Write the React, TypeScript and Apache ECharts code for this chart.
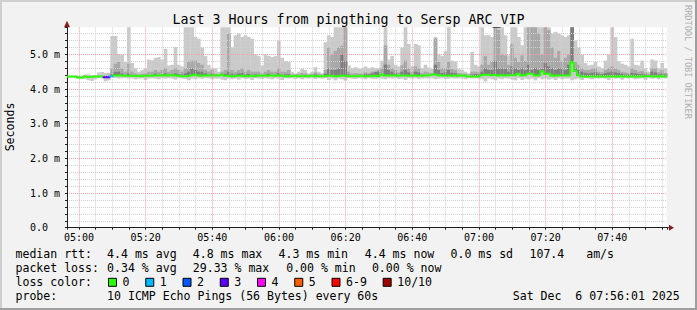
import React, { useEffect, useRef } from 'react';
import * as echarts from 'echarts';

const TITLE = 'Last 3 Hours from pingthing to Sersp ARC_VIP';
const Y_AXIS_NAME = 'Seconds';
const WATERMARK = 'RRDTOOL / TOBI OETIKER';
const START_MIN = 296.4; // 04:56:24, minutes after midnight
const SPAN_MIN = 180;
const Y_MAX = 5.78; // ms

// one value per 1-minute column (ms)
const medianRtt = [
  4.36, 4.36, 4.36, 4.33, 4.33, 4.36, 4.35, 4.35, 4.36, 4.36,
  4.36, 4.34, 4.34, 4.37, 4.39, 4.39, 4.39, 4.38, 4.38, 4.38,
  4.38, 4.38, 4.37, 4.38, 4.38, 4.38, 4.39, 4.39, 4.39, 4.40,
  4.39, 4.40, 4.39, 4.38, 4.37, 4.37, 4.37, 4.40, 4.41, 4.39,
  4.38, 4.39, 4.39, 4.39, 4.39, 4.39, 4.41, 4.38, 4.38, 4.37,
  4.37, 4.38, 4.38, 4.37, 4.37, 4.38, 4.37, 4.38, 4.38, 4.39,
  4.38, 4.39, 4.38, 4.39, 4.38, 4.37, 4.37, 4.37, 4.38, 4.37,
  4.37, 4.37, 4.37, 4.38, 4.37, 4.37, 4.37, 4.37, 4.38, 4.38,
  4.37, 4.37, 4.38, 4.38, 4.37, 4.37, 4.37, 4.37, 4.38, 4.37,
  4.37, 4.37, 4.38, 4.37, 4.42, 4.39, 4.39, 4.39, 4.39, 4.38,
  4.39, 4.39, 4.38, 4.38, 4.39, 4.38, 4.38, 4.39, 4.39, 4.41,
  4.42, 4.40, 4.39, 4.39, 4.38, 4.38, 4.39, 4.38, 4.39, 4.38,
  4.36, 4.36, 4.36, 4.36, 4.40, 4.41, 4.41, 4.40, 4.40, 4.39,
  4.40, 4.39, 4.40, 4.40, 4.40, 4.44, 4.39, 4.40, 4.44, 4.44,
  4.39, 4.39, 4.51, 4.44, 4.44, 4.39, 4.38, 4.39, 4.39, 4.39,
  4.39, 4.77, 4.52, 4.40, 4.36, 4.36, 4.36, 4.36, 4.36, 4.36,
  4.36, 4.36, 4.36, 4.36, 4.36, 4.36, 4.37, 4.36, 4.36, 4.36,
  4.36, 4.36, 4.36, 4.37, 4.37, 4.37, 4.36, 4.36, 4.37, 4.36,
];

const smokeLow = [
  4.33, 4.33, 4.32, 4.30, 4.30, 4.28, 4.25, 4.23, 4.28, 4.31,
  4.31, 4.22, 4.25, 4.33, 4.32, 4.30, 4.31, 4.32, 4.30, 4.31,
  4.28, 4.30, 4.31, 4.26, 4.30, 4.31, 4.30, 4.28, 4.31, 4.30,
  4.31, 4.30, 4.27, 4.31, 4.30, 4.29, 4.25, 4.30, 4.28, 4.31,
  4.30, 4.32, 4.31, 4.28, 4.30, 4.30, 4.27, 4.25, 4.30, 4.28,
  4.30, 4.27, 4.31, 4.29, 4.30, 4.26, 4.31, 4.30, 4.29, 4.31,
  4.30, 4.28, 4.31, 4.30, 4.26, 4.31, 4.30, 4.31, 4.29, 4.31,
  4.28, 4.31, 4.30, 4.31, 4.29, 4.31, 4.30, 4.31, 4.26, 4.30,
  4.25, 4.30, 4.28, 4.24, 4.31, 4.30, 4.29, 4.31, 4.30, 4.28,
  4.31, 4.30, 4.29, 4.31, 4.30, 4.28, 4.31, 4.30, 4.31, 4.29,
  4.30, 4.26, 4.31, 4.30, 4.31, 4.29, 4.30, 4.31, 4.30, 4.31,
  4.28, 4.30, 4.31, 4.29, 4.30, 4.31, 4.30, 4.31, 4.30, 4.28,
  4.31, 4.30, 4.31, 4.30, 4.28, 4.22, 4.30, 4.28, 4.25, 4.30,
  4.28, 4.31, 4.30, 4.27, 4.25, 4.31, 4.26, 4.30, 4.28, 4.30,
  4.25, 4.31, 4.28, 4.30, 4.27, 4.30, 4.26, 4.31, 4.28, 4.30,
  4.30, 4.25, 4.28, 4.30, 4.26, 4.31, 4.30, 4.28, 4.31, 4.30,
  4.31, 4.30, 4.26, 4.31, 4.30, 4.31, 4.27, 4.31, 4.30, 4.31,
  4.28, 4.30, 4.31, 4.26, 4.31, 4.30, 4.31, 4.28, 4.31, 4.30,
];

const smokeHigh = [
  4.37, 4.38, 4.37, 4.36, 4.35, 4.42, 4.42, 4.40, 4.40, 4.48,
  4.49, 4.46, 4.47, 5.53, 5.53, 5.00, 4.98, 4.78, 5.78, 4.75,
  4.60, 4.50, 4.55, 4.60, 4.85, 4.83, 4.90, 4.92, 4.85, 5.16,
  4.68, 4.70, 5.21, 4.70, 4.65, 5.78, 5.78, 5.78, 5.50, 5.45,
  5.20, 4.95, 4.70, 4.60, 4.60, 4.50, 5.78, 5.78, 5.78, 5.20,
  5.55, 5.60, 5.50, 5.55, 5.50, 5.45, 5.00, 4.95, 4.68, 5.00,
  4.95, 4.92, 4.95, 5.40, 4.90, 4.80, 4.78, 4.50, 4.45, 4.50,
  4.58, 4.55, 4.45, 4.50, 4.63, 4.50, 4.45, 5.35, 5.55, 5.50,
  5.78, 5.78, 5.78, 5.78, 4.68, 4.60, 4.63, 4.58, 4.60, 4.65,
  4.60, 4.63, 4.60, 4.60, 4.82, 5.78, 4.85, 4.95, 4.70, 4.65,
  5.20, 5.78, 5.30, 4.65, 5.30, 5.26, 4.60, 4.70, 4.62, 4.58,
  5.50, 5.00, 4.95, 5.10, 5.78, 4.82, 4.80, 4.58, 4.55, 4.50,
  4.45, 5.07, 4.70, 4.65, 5.78, 5.55, 5.55, 5.50, 5.78, 5.78,
  5.78, 5.55, 4.97, 5.78, 5.78, 5.50, 5.26, 5.78, 5.78, 5.78,
  5.78, 5.78, 5.78, 5.78, 5.78, 5.60, 5.65, 5.60, 5.55, 5.50,
  5.55, 5.78, 5.40, 5.20, 4.98, 4.75, 4.68, 4.70, 4.78, 4.65,
  4.60, 4.82, 5.00, 5.78, 5.50, 4.80, 4.73, 4.70, 4.65, 5.45,
  4.70, 4.68, 4.82, 4.60, 4.50, 4.85, 4.82, 4.60, 4.75, 4.60,
];

const smokeMid = [
  4.38, 4.38, 4.38, 4.37, 4.36, 4.39, 4.38, 4.38, 4.38, 4.40,
  4.40, 4.40, 4.42, 4.60, 4.73, 4.78, 4.60, 4.50, 4.73, 4.50,
  4.45, 4.42, 4.44, 4.45, 4.50, 4.50, 4.55, 4.50, 4.55, 4.60,
  4.50, 4.55, 4.60, 4.55, 4.50, 4.60, 4.80, 4.82, 4.82, 4.75,
  4.70, 4.55, 4.50, 4.55, 4.45, 4.42, 4.50, 4.55, 5.60, 4.55,
  4.50, 4.55, 4.60, 4.50, 4.55, 4.50, 4.50, 4.50, 4.45, 4.50,
  4.55, 4.50, 4.50, 4.60, 4.50, 4.50, 4.55, 4.42, 4.42, 4.44,
  4.46, 4.45, 4.42, 4.44, 4.48, 4.44, 4.42, 4.55, 5.20, 5.00,
  5.10, 5.20, 5.25, 5.78, 4.50, 4.45, 4.46, 4.45, 4.45, 4.48,
  4.46, 4.50, 4.48, 4.55, 4.60, 5.26, 4.70, 4.60, 4.55, 4.48,
  4.68, 4.82, 4.60, 4.48, 4.65, 4.60, 4.46, 4.50, 4.48, 4.46,
  5.45, 4.78, 4.60, 4.60, 4.78, 4.58, 4.55, 4.46, 4.45, 4.44,
  4.42, 4.50, 4.50, 4.48, 4.70, 4.95, 4.70, 4.80, 5.78, 5.70,
  5.00, 4.97, 4.70, 5.30, 4.90, 4.78, 4.97, 4.80, 5.78, 5.78,
  5.78, 5.60, 5.00, 5.78, 5.70, 5.20, 4.90, 5.10, 4.80, 4.90,
  5.00, 5.78, 4.78, 4.70, 4.60, 4.55, 4.55, 4.58, 4.60, 4.50,
  4.48, 4.55, 4.60, 4.65, 4.60, 4.55, 4.50, 4.48, 4.46, 4.60,
  4.55, 4.50, 4.52, 4.48, 4.44, 4.60, 4.60, 4.48, 4.55, 4.46,
];

const smokeCore = [
  4.37, 4.37, 4.37, 4.36, 4.35, 4.37, 4.37, 4.36, 4.37, 4.38,
  4.38, 4.36, 4.37, 4.42, 4.49, 4.50, 4.45, 4.42, 4.45, 4.42,
  4.41, 4.40, 4.40, 4.41, 4.42, 4.42, 4.44, 4.42, 4.43, 4.45,
  4.42, 4.43, 4.45, 4.43, 4.42, 4.45, 4.50, 4.60, 4.55, 4.50,
  4.50, 4.45, 4.42, 4.44, 4.41, 4.40, 4.45, 4.44, 4.50, 4.44,
  4.42, 4.45, 4.46, 4.42, 4.44, 4.42, 4.42, 4.41, 4.40, 4.42,
  4.44, 4.42, 4.41, 4.46, 4.42, 4.42, 4.43, 4.40, 4.40, 4.40,
  4.41, 4.41, 4.40, 4.40, 4.42, 4.40, 4.40, 4.44, 4.60, 4.55,
  4.55, 4.60, 5.00, 4.80, 4.42, 4.40, 4.41, 4.40, 4.40, 4.42,
  4.42, 4.45, 4.50, 4.50, 4.46, 4.70, 4.55, 4.50, 4.45, 4.42,
  4.50, 4.55, 4.48, 4.42, 4.50, 4.48, 4.41, 4.43, 4.42, 4.41,
  4.70, 4.55, 4.46, 4.48, 4.55, 4.47, 4.46, 4.41, 4.41, 4.40,
  4.40, 4.42, 4.43, 4.42, 4.50, 4.60, 4.55, 4.55, 4.80, 4.60,
  4.60, 4.58, 4.50, 4.65, 4.60, 4.55, 4.60, 4.55, 4.70, 4.55,
  4.60, 4.55, 4.58, 4.75, 4.65, 4.60, 4.55, 4.60, 4.60, 4.55,
  4.70, 5.78, 4.60, 4.55, 4.50, 4.47, 4.45, 4.47, 4.48, 4.44,
  4.43, 4.46, 4.48, 4.50, 4.48, 4.46, 4.44, 4.42, 4.41, 4.47,
  4.45, 4.43, 4.44, 4.42, 4.40, 4.50, 4.48, 4.42, 4.45, 4.42,
];

const lossCount = [
  0, 0, 0, 0, 0, 0, 0, 0, 0, 0,
  0, 3, 3, 1, 0, 0, 0, 0, 0, 0,
  0, 0, 0, 0, 0, 0, 0, 0, 0, 0,
  0, 0, 0, 0, 0, 0, 0, 0, 0, 0,
  0, 0, 0, 0, 0, 0, 0, 0, 0, 0,
  0, 0, 0, 0, 0, 0, 0, 0, 0, 0,
  0, 0, 0, 0, 0, 0, 0, 0, 0, 0,
  0, 0, 0, 0, 0, 0, 0, 0, 0, 0,
  0, 0, 0, 0, 0, 0, 0, 0, 0, 0,
  0, 0, 0, 0, 0, 0, 0, 0, 0, 0,
  0, 0, 0, 0, 0, 0, 0, 0, 0, 0,
  0, 0, 0, 0, 0, 0, 0, 0, 0, 0,
  0, 0, 0, 0, 0, 0, 0, 0, 0, 0,
  0, 0, 0, 0, 0, 0, 0, 0, 0, 0,
  0, 0, 0, 0, 0, 0, 0, 0, 0, 0,
  0, 0, 0, 0, 0, 0, 0, 0, 0, 0,
  0, 0, 0, 0, 0, 0, 0, 0, 0, 0,
  0, 0, 0, 0, 0, 0, 0, 0, 0, 0,
];

const lossLabels = ['0', '1', '2', '3', '4', '5', '6-9', '10/10'];
const lossColors = ['#26ff00', '#00b8ff', '#0059ff', '#5e00ff', '#ff00ff', '#ff5e00', '#ff0000', '#a10000'];

const rttStats = ['4.4 ms avg', '4.8 ms max', '4.3 ms min', '4.4 ms now', '0.0 ms sd', '107.4', 'am/s'];
const lossStats = ['0.34 % avg', '29.33 % max', '0.00 % min', '0.00 % now'];
const probeText = '10 ICMP Echo Pings (56 Bytes) every 60s';
const stampDay = 'Sat Dec';
const stampRest = '6 07:56:01 2025';

const MONO = '"DejaVu Sans Mono", monospace';

function lossColorIndex(n: number) {
  if (n <= 5) return n;
  if (n < 10) return 6;
  return 7;
}

export default function App() {
  const ref = useRef<HTMLDivElement>(null);

  useEffect(() => {
    if (!ref.current) return;
    const chart = echarts.init(ref.current, null, { renderer: 'svg' });

    const GL = 67, GT = 27.3, GW = 600, GH = 200.4;
    const GB = GT + GH;
    const CH = 6.95; // legend char advance
    const LEG = 11.55;

    const minutes = medianRtt.map((_, i) => START_MIN + i);
    const smokeData = minutes.map((t, i) => [t, smokeLow[i], smokeHigh[i], smokeMid[i], smokeCore[i], medianRtt[i]]);
    const medData = minutes.map((t, i) => [t, medianRtt[i], i > 0 ? medianRtt[i - 1] : medianRtt[i], lossCount[i]]);

    const txt = (text: string, x: number, y: number, size: number, extra: any = {}) => ({
      type: 'text',
      x,
      y,
      silent: true,
      z: 20,
      ...extra,
      style: {
        text,
        fontFamily: MONO,
        fontSize: size,
        fill: extra.fill || '#000',
        align: extra.align || 'left',
        textAlign: extra.align || 'left',
        verticalAlign: 'middle',
        textVerticalAlign: 'middle',
      },
    });

    const graphics: any[] = [];
    // frame
    graphics.push({ type: 'rect', shape: { x: 0, y: 0, width: 697, height: 2 }, style: { fill: '#cfcfcf' }, silent: true });
    graphics.push({ type: 'rect', shape: { x: 0, y: 0, width: 2, height: 310 }, style: { fill: '#cfcfcf' }, silent: true });
    graphics.push({ type: 'rect', shape: { x: 695, y: 0, width: 2, height: 310 }, style: { fill: '#9e9e9e' }, silent: true });
    graphics.push({ type: 'rect', shape: { x: 0, y: 308, width: 697, height: 2 }, style: { fill: '#9e9e9e' }, silent: true });

    graphics.push(txt(TITLE, 348.5, 19.5, 13.3, { align: 'center' }));
    graphics.push(txt(Y_AXIS_NAME, 10, 127, LEG, { align: 'center', rotation: Math.PI / 2 }));
    graphics.push(txt(WATERMARK, 688, 5, 8.6, { rotation: -Math.PI / 2, fill: '#b0b0b0' }));

    // arrows
    graphics.push({ type: 'line', shape: { x1: GL + GW, y1: GB, x2: GL + GW + 3, y2: GB }, style: { stroke: '#1f1f1f', lineWidth: 1 }, silent: true, z: 10 });
    graphics.push({ type: 'polygon', shape: { points: [[GL + GW + 2, GB - 3], [GL + GW + 7, GB], [GL + GW + 2, GB + 3]] }, style: { fill: '#7f1f1f' }, silent: true, z: 10 });
    graphics.push({ type: 'polygon', shape: { points: [[GL - 3, GT], [GL, GT - 6.5], [GL + 3, GT]] }, style: { fill: '#7f1f1f' }, silent: true, z: 10 });

    // legend lines
    const L1 = 254.3, L2 = 268.3, L3 = 282.3, L4 = 296.2;
    const valX = 107.1;
    graphics.push(txt('median rtt:', 15.5, L1, LEG));
    const rttX = [107.1, 192.8, 278.5, 364.8, 450.5, 529.5, 586.2];
    rttStats.forEach((s, i) => graphics.push(txt(s, rttX[i], L1, LEG)));
    graphics.push(txt('packet loss:', 15.5, L2, LEG));
    const lossX = [107.1, 192.8, 286.2, 371.9];
    lossStats.forEach((s, i) => graphics.push(txt(s, lossX[i], L2, LEG)));
    graphics.push(txt('loss color:', 15.5, L3, LEG));
    let bx = 108;
    lossLabels.forEach((lab, i) => {
      graphics.push({ type: 'rect', shape: { x: bx + 0.5, y: L3 - 4, width: 8, height: 8 }, style: { fill: lossColors[i], stroke: '#000', lineWidth: 1 }, silent: true });
      const lx = bx + 14.6;
      graphics.push(txt(lab, lx, L3, LEG));
      bx = lx + lab.length * CH + 15.7;
    });
    graphics.push(txt('probe:', 15.5, L4, LEG));
    graphics.push(txt(probeText, valX, L4, LEG));
    graphics.push(txt(stampDay, 512.8, L4, LEG));
    graphics.push(txt(stampRest, 512.8 + 9 * CH, L4, LEG));

    const option: any = {
      animation: false,
      backgroundColor: '#f2f2f2',
      textStyle: { fontFamily: MONO },
      grid: {
        left: GL, top: GT, width: GW, height: GH,
        show: true, backgroundColor: '#ffffff', borderWidth: 0,
        containLabel: false, outerBoundsMode: 'none',
      },
      xAxis: {
        type: 'value',
        min: START_MIN,
        max: START_MIN + SPAN_MIN,
        splitNumber: 36,
        minInterval: 5,
        maxInterval: 5,
        z: 2,
        axisLine: { show: true, onZero: false, lineStyle: { color: '#1f1f1f', width: 1 } },
        axisTick: { show: true, length: 2, lineStyle: { color: '#1f1f1f' } },
        axisLabel: {
          interval: 0,
          margin: 5,
          fontFamily: MONO,
          fontSize: 10,
          color: '#000',
          showMinLabel: true,
          showMaxLabel: true,
          formatter: (v: number) => {
            const m = Math.round(v);
            if (Math.abs(v - m) > 1e-6 || m % 20 !== 0) return '';
            const hh = Math.floor(m / 60);
            const mm = m % 60;
            return `${String(hh).padStart(2, '0')}:${String(mm).padStart(2, '0')}`;
          },
        },
        splitLine: {
          show: true,
          showMaxLine: false,
          lineStyle: { color: ['#d0d0d0', '#efa0a0', '#d0d0d0', '#d0d0d0'], type: [1, 1], width: 1 },
        },
      },
      yAxis: {
        type: 'value',
        min: 0,
        max: Y_MAX,
        interval: 0.2,
        z: 2,
        axisLine: { show: true, lineStyle: { color: '#1f1f1f', width: 1 } },
        axisTick: { show: true, length: 2, lineStyle: { color: '#1f1f1f' } },
        axisLabel: {
          interval: 0,
          align: 'left',
          margin: 37,
          fontFamily: MONO,
          fontSize: 10,
          color: '#000',
          formatter: (v: number) => {
            const r = Math.round(v);
            if (Math.abs(v - r) > 1e-6) return '';
            return r === 0 ? '0.0' : `${r.toFixed(1)} m`;
          },
        },
        splitLine: {
          show: true,
          showMaxLine: false,
          lineStyle: { color: ['#efa0a0', '#d0d0d0', '#d0d0d0', '#d0d0d0', '#d0d0d0'], type: [1, 1], width: 1 },
        },
      },
      graphic: { elements: graphics },
      series: [
        {
          type: 'custom',
          name: 'smoke',
          z: 1,
          silent: true,
          data: smokeData,
          encode: { x: 0, y: [1, 2] },
          renderItem: (params: any, api: any) => {
            const t = api.value(0);
            const lo = api.value(1), hi = api.value(2), mid = api.value(3), core = api.value(4), med = api.value(5);
            const p0 = api.coord([t, lo]);
            const p1 = api.coord([t + 1, lo]);
            const x0 = p0[0];
            const w = p1[0] - x0 + 0.35;
            const yLo = p0[1];
            const yHi = api.coord([t, hi])[1];
            const yMed = api.coord([t, med])[1];
            const yMid = api.coord([t, mid])[1];
            const yCore = api.coord([t, core])[1];
            const children: any[] = [
              { type: 'rect', shape: { x: x0, y: yHi, width: w, height: yLo - yHi }, style: { fill: '#cacaca' } },
            ];
            if (mid > med + 0.02) children.push({ type: 'rect', shape: { x: x0, y: yMid, width: w, height: yMed - yMid }, style: { fill: '#a8a8a8' } });
            if (core > med + 0.04) children.push({ type: 'rect', shape: { x: x0, y: yCore, width: w, height: yMed - yCore }, style: { fill: '#7e7e7e' } });
            return { type: 'group', children };
          },
        },
        {
          type: 'custom',
          name: 'median rtt',
          z: 3,
          silent: true,
          data: medData,
          encode: { x: 0, y: 1 },
          renderItem: (params: any, api: any) => {
            const t = api.value(0);
            const med = api.value(1), prev = api.value(2), loss = api.value(3);
            const a = api.coord([t, prev]);
            const b = api.coord([t, med]);
            const c = api.coord([t + 1, med]);
            return {
              type: 'polyline',
              shape: { points: [[a[0], a[1]], [b[0], b[1]], [c[0], c[1]]] },
              style: { stroke: lossColors[lossColorIndex(loss)], lineWidth: 2, fill: null, lineJoin: 'miter' },
            };
          },
        },
      ],
    };

    chart.setOption(option);
    return () => chart.dispose();
  }, []);

  return <div ref={ref} style={{ position: 'fixed', left: 0, top: 0, width: 697, height: 310 }} />;
}
